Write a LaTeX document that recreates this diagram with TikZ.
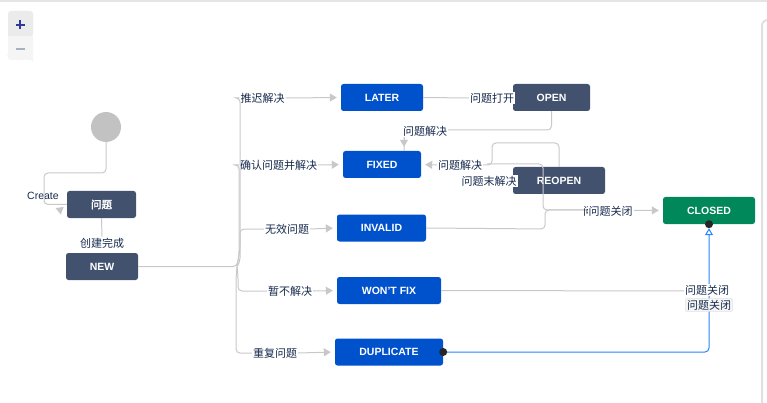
\documentclass[tikz,border=0pt]{standalone}
\usepackage{fontspec}
\setmainfont{Liberation Sans}
\newfontfamily\cjk[AutoFakeBold=2]{Noto Sans CJK SC}
\usepackage{tikz}
\usetikzlibrary{shapes, positioning}
\usetikzlibrary{calc}
\usetikzlibrary{arrows.meta}
\definecolor{jiradark}{HTML}{42526E}
\definecolor{jirablue}{HTML}{0052CC}
\definecolor{jiragreen}{HTML}{00875A}
\definecolor{jiratext}{HTML}{172B4D}
\definecolor{linegray}{HTML}{C8C8C8}
\definecolor{hilite}{HTML}{2684FF}

\begin{document}
\begin{tikzpicture}[x=1pt, y=-1pt]
			\tikzset{
				state/.style={rectangle, rounded corners=2.5pt, minimum height=27pt, inner sep=0pt, text=white, font=\bfseries\fontsize{10.5}{12}\selectfont},
				darkstate/.style={state, fill=jiradark},
				bluestate/.style={state, fill=jirablue},
				greenstate/.style={state, fill=jiragreen},
				lbl/.style={fill=white, inner sep=1pt, text=jiratext, font=\cjk\fontsize{11}{12}\selectfont},
				conn/.style={draw=linegray, line width=1pt, rounded corners=4pt},
				tip/.style={-{Triangle[length=7pt,width=8pt]}, shorten >=4pt}
			}
			\useasboundingbox (0,0) rectangle (767,403);
			\draw[black!10, line width=1.5pt] (0,1) -- (767,1);
			\draw[black!12, line width=2pt, rounded corners=3pt] (762,403) -- (762,22) -- (767,20);
			\fill[black!4] (8,36) -- (8,57) arc (180:90:-3) -- (30,60) arc (-90:0:3) -- (33,36) -- cycle;
			\fill[black!4] (8,57) [rounded corners=3pt] -- (8,11) -- (33,11) [sharp corners] -- (33,36) -- (8,36) -- cycle;
			\fill[black!8, rounded corners=3pt] (8,36) -- (8,11) -- (33,11) -- (33,36) [sharp corners] -- cycle;
			\fill[black!4, rounded corners=3pt] (8,36) -- (8,60) -- (33,60) -- (33,36) [sharp corners] -- cycle;
			\draw[jiradark!70!blue, line width=1.6pt] (15.5,25) -- (24.5,25) (20,20.5) -- (20,29.5);
			\draw[jiradark!45, line width=1.6pt] (15.5,49) -- (24.5,49);

			\node[circle, fill=black!24, minimum size=30pt, inner sep=0pt] (start) at (106,127) {};
			\node[darkstate, minimum width=69pt] (issue) at (101.5,204.5) {\cjk 问题};
			\node[darkstate, minimum width=72pt] (new) at (102,266.5) {NEW};
			\node[bluestate, minimum width=82pt] (later) at (382,97.5) {LATER};
			\node[darkstate, minimum width=77pt] (open) at (551.5,97.5) {OPEN};
			\node[bluestate, minimum width=78pt] (fixed) at (382,164.5) {FIXED};
			\node[darkstate, minimum width=92pt] (reopen) at (559,180.5) {REOPEN};
			\node[greenstate, minimum width=92pt] (closed) at (709,210.5) {CLOSED};
			\node[bluestate, minimum width=89pt] (invalid) at (381.5,228) {INVALID};
			\node[bluestate, minimum width=104pt] (wontfix) at (389,290.5) {WON'T FIX};
			\node[bluestate, minimum width=108pt] (duplicate) at (389,352) {DUPLICATE};

			\node[lbl] (tCreate) at (43,196) {\rmfamily\fontsize{10.5}{12}\selectfont Create};
			\node[lbl] (tDone) at (102,243) {创建完成};
			\node[lbl] (tLater) at (262.5,98) {推迟解决};
			\node[lbl] (tFixed) at (278.5,165) {确认问题并解决};
			\node[lbl] (tInvalid) at (287,229) {无效问题};
			\node[lbl] (tWont) at (290,291) {暂不解决};
			\node[lbl] (tDup) at (275,353) {重复问题};

			\coordinate (fork) at (237,266.5);
			\draw[conn] (start.south) |- (44,173) |- (issue.west);
			\draw[conn, tip] (tCreate.south east) ++(0,9) -- ($(issue.west)+(0,0)$);
			\draw[conn] (issue.south) -- (tDone.north);
			\draw[conn] (new.east) -- (fork) -- (240,250) |- (tLater.west);
			\draw[conn] (fork) -- (239,255) |- (tFixed.west);
			\draw[conn] (fork) -- (240,262) |- (tInvalid.west);
			\draw[conn] (fork) -- (238,275) |- (tWont.west);
			\draw[conn] (fork) -- (236,280) |- (tDup.west);
			\draw[conn, tip] (tLater.east) -- (later.west);
			\draw[conn, tip] (tFixed.east) -- (fixed.west);
			\draw[conn, tip] (tInvalid.east) -- (invalid.west);
			\draw[conn, tip] (tWont.east) -- (wontfix.west);
			\draw[conn, tip] (tDup.east) -- (duplicate.west);

			\draw[conn] (later.east) -- (470,98);
			\node[lbl] (tOpen) at (492,98) {问题打开};
			\draw[conn] (open.south) |- (404,130) -- (404,151);
			\draw[conn, tip] (404,138) -- (fixed.north -| 404,0);
			\node[lbl] (tSolve) at (425,131) {问题解决};

			\draw[conn] (reopen.north) -- (559,143) -- (492,143) -- (492,165) -- (440,165);
			\draw[conn, tip] (440,165) -- (fixed.east);
			\draw[conn] (487,164) -- (543,164) -- (543,210) -- (600,210);
			\draw[conn] (invalid.east) -- (545,229) -- (545,210) -- (600,210);
			\draw[conn, tip] (600,210) -- (closed.west);
			\node[lbl] (tReSolve) at (460,165) {问题解决};
			\node[lbl] (tUnsolved) at (489,181) {问题末解决};
			\node[lbl, fill=none] (tCloseA) at (605,211) {问题关闭};
			\node[lbl] (tCloseB) at (610.5,211) {问题关闭};

			\draw[hilite, line width=1pt, rounded corners=4pt, -{Triangle[open, fill=white, length=7pt, width=8pt]}, shorten >=4pt] (duplicate.east) -| (closed.south);
			\draw[conn] (wontfix.east) -- (686,291);
			\node[lbl] (tWontClose) at (707,290) {问题关闭};
			\node[lbl, fill=black!4, draw=black!18, rounded corners=2pt, inner sep=1.5pt] (tDupClose) at (709,305) {问题关闭};
			\fill[black!85] (duplicate.east) circle (4pt);
			\fill[black!85] (closed.south) circle (4pt);
		\end{tikzpicture}
\end{document}
